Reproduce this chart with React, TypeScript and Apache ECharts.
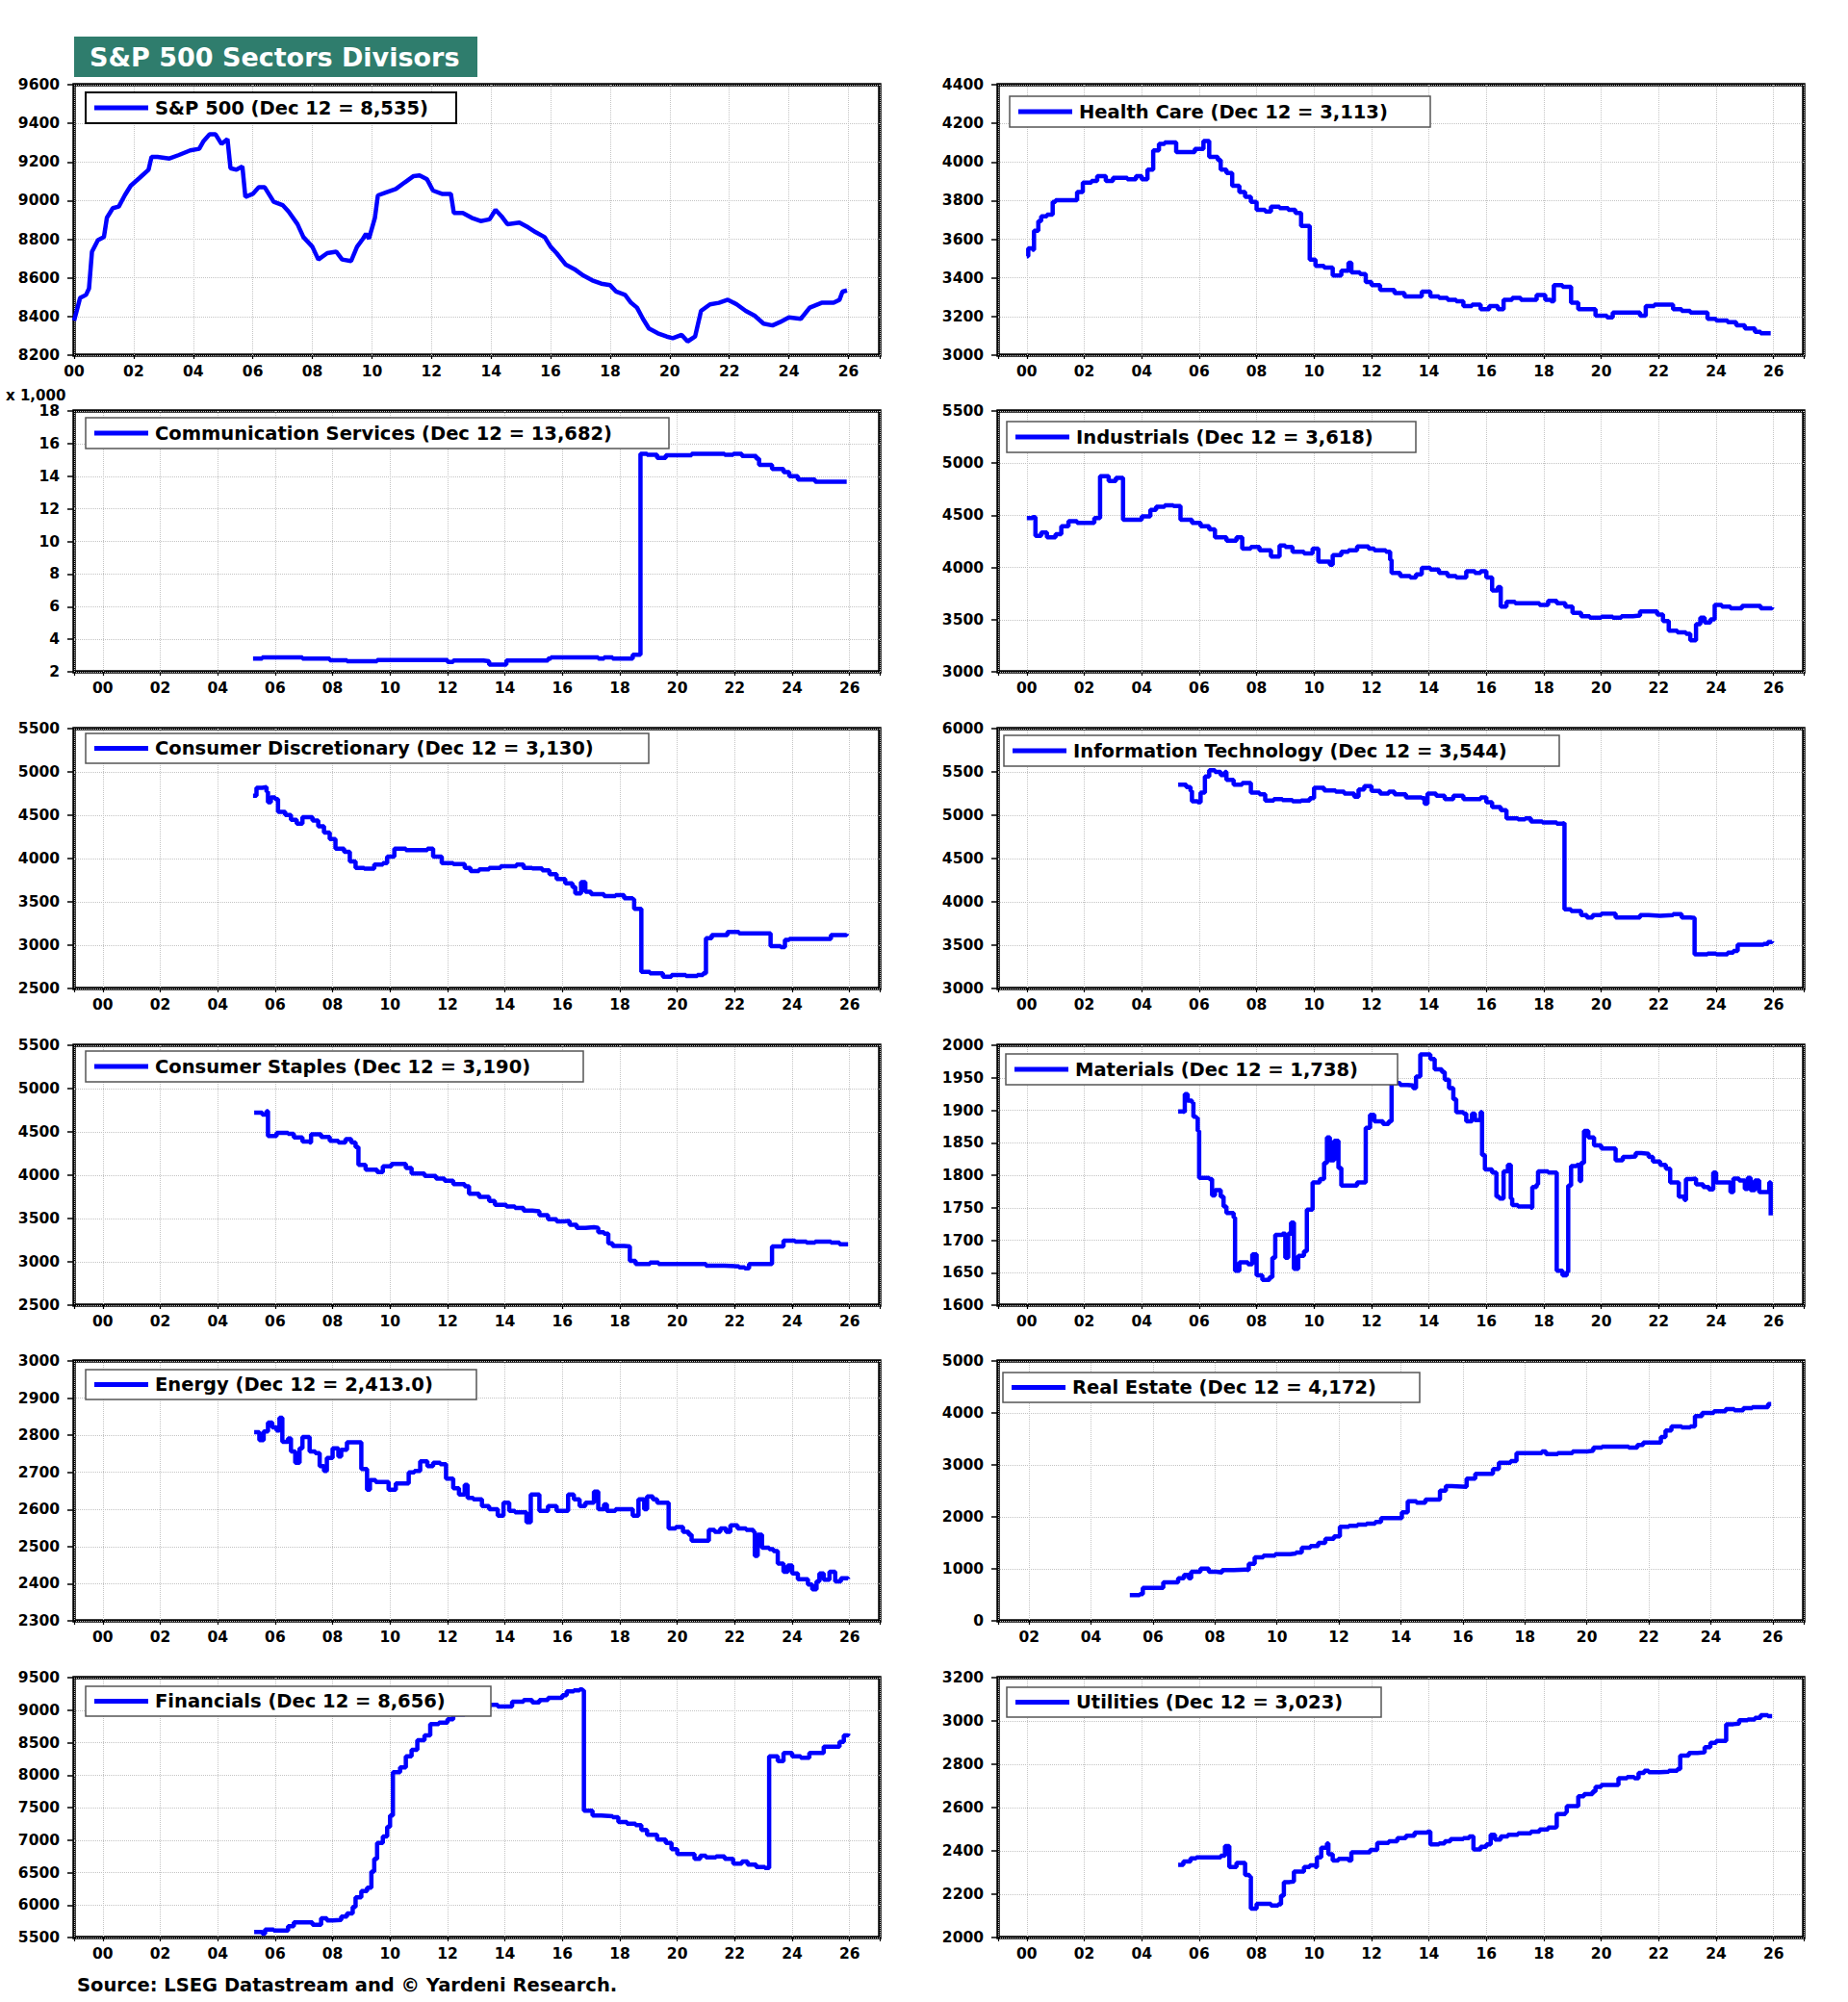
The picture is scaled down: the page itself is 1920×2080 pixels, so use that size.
import React, { useEffect, useRef } from "react";
import * as echarts from "echarts";

const FONT = '"DejaVu Sans", "Liberation Sans", Arial, sans-serif';

// ---------- data: [decimal year, value] ----------
const spx: [number, number][] = [[2000.0,8379],[2000.2,8496],[2000.4,8512],[2000.5,8545],[2000.6,8736],[2000.8,8795],[2001.0,8811],[2001.1,8911],[2001.3,8961],[2001.5,8969],[2001.7,9027],[2001.9,9077],[2002.2,9118],[2002.5,9160],[2002.6,9226],[2002.8,9226],[2003.2,9218],[2003.5,9235],[2003.9,9260],[2004.2,9268],[2004.35,9309],[2004.55,9343],[2004.75,9343],[2004.95,9293],[2005.15,9318],[2005.25,9168],[2005.45,9160],[2005.65,9177],[2005.75,9019],[2006.0,9035],[2006.2,9069],[2006.4,9069],[2006.7,8994],[2007.0,8977],[2007.2,8944],[2007.5,8878],[2007.7,8811],[2008.0,8761],[2008.2,8695],[2008.5,8728],[2008.8,8736],[2009.0,8695],[2009.3,8687],[2009.5,8761],[2009.7,8803],[2009.8,8828],[2009.9,8803],[2010.1,8911],[2010.2,9027],[2010.5,9044],[2010.8,9060],[2011.1,9094],[2011.4,9127],[2011.6,9130],[2011.85,9110],[2012.05,9052],[2012.35,9035],[2012.65,9035],[2012.75,8936],[2013.05,8936],[2013.35,8911],[2013.65,8894],[2013.95,8903],[2014.15,8952],[2014.35,8919],[2014.55,8878],[2014.95,8886],[2015.25,8861],[2015.5,8836],[2015.8,8811],[2016.0,8761],[2016.2,8728],[2016.5,8670],[2016.8,8645],[2017.1,8612],[2017.4,8587],[2017.7,8570],[2018.0,8562],[2018.2,8529],[2018.5,8512],[2018.7,8471],[2018.9,8446],[2019.1,8388],[2019.3,8338],[2019.6,8313],[2019.9,8296],[2020.1,8288],[2020.4,8305],[2020.6,8271],[2020.85,8296],[2021.05,8429],[2021.35,8463],[2021.65,8471],[2021.95,8487],[2022.25,8463],[2022.55,8429],[2022.85,8404],[2023.15,8363],[2023.45,8354],[2023.7,8371],[2024.0,8396],[2024.4,8388],[2024.7,8446],[2025.1,8471],[2025.5,8471],[2025.7,8487],[2025.8,8529],[2025.95,8535]];

const healthCare: [number, number][] = [[2000.0,3512],[2000.05,3553],[2000.2,3545],[2000.25,3644],[2000.4,3694],[2000.5,3719],[2000.7,3727],[2000.9,3794],[2001.0,3802],[2001.65,3802],[2001.75,3844],[2001.95,3893],[2002.25,3902],[2002.45,3927],[2002.75,3902],[2003.0,3918],[2003.5,3910],[2003.8,3927],[2004.0,3910],[2004.2,3960],[2004.4,4060],[2004.6,4093],[2004.8,4101],[2005.2,4051],[2005.65,4051],[2005.85,4068],[2006.15,4109],[2006.35,4026],[2006.65,4010],[2006.75,3960],[2006.95,3943],[2007.15,3877],[2007.4,3844],[2007.6,3819],[2007.8,3794],[2008.0,3752],[2008.3,3744],[2008.5,3769],[2008.8,3761],[2009.1,3752],[2009.35,3736],[2009.55,3669],[2009.75,3669],[2009.85,3495],[2010.05,3462],[2010.35,3453],[2010.65,3412],[2010.95,3437],[2011.2,3478],[2011.3,3429],[2011.6,3420],[2011.8,3379],[2012.0,3362],[2012.3,3337],[2012.6,3337],[2012.8,3321],[2013.15,3304],[2013.45,3304],[2013.75,3329],[2014.05,3304],[2014.35,3296],[2014.65,3287],[2014.95,3279],[2015.2,3254],[2015.5,3262],[2015.8,3238],[2016.1,3254],[2016.4,3238],[2016.6,3287],[2016.9,3296],[2017.2,3287],[2017.55,3287],[2017.75,3312],[2018.05,3287],[2018.25,3279],[2018.35,3362],[2018.65,3354],[2018.85,3354],[2018.95,3271],[2019.2,3238],[2019.5,3238],[2019.8,3204],[2020.2,3196],[2020.4,3221],[2021.35,3204],[2021.55,3254],[2021.85,3262],[2022.15,3262],[2022.5,3238],[2022.8,3229],[2023.1,3221],[2023.7,3188],[2024.0,3179],[2024.4,3171],[2024.7,3154],[2025.0,3138],[2025.35,3121],[2025.55,3113],[2025.9,3113]];

const commServices: [number, number][] = [[2005.23,2.81],[2005.55,2.89],[2006.95,2.81],[2007.9,2.71],[2008.5,2.65],[2009.55,2.73],[2012.0,2.61],[2012.2,2.69],[2013.25,2.65],[2013.45,2.45],[2014.05,2.69],[2014.9,2.69],[2015.5,2.81],[2015.6,2.89],[2017.25,2.81],[2017.45,2.89],[2017.75,2.81],[2018.45,3.05],[2018.72,15.38],[2018.95,15.32],[2019.3,15.12],[2019.6,15.28],[2020.5,15.38],[2021.65,15.32],[2021.95,15.38],[2022.25,15.24],[2022.75,15.08],[2022.85,14.69],[2023.3,14.45],[2023.7,14.25],[2023.9,14.0],[2024.2,13.8],[2024.8,13.66],[2025.9,13.68]];

const industrials: [number, number][] = [[2000.0,4473],[2000.2,4483],[2000.3,4304],[2000.5,4335],[2000.7,4289],[2001.0,4319],[2001.2,4396],[2001.45,4443],[2001.75,4427],[2002.35,4473],[2002.55,4874],[2002.85,4828],[2003.1,4859],[2003.35,4458],[2003.7,4458],[2004.0,4489],[2004.3,4551],[2004.5,4581],[2004.8,4597],[2005.1,4588],[2005.35,4458],[2005.75,4427],[2006.05,4396],[2006.35,4366],[2006.55,4289],[2006.95,4258],[2007.3,4289],[2007.5,4181],[2007.8,4196],[2008.1,4165],[2008.5,4104],[2008.8,4211],[2009.0,4196],[2009.25,4150],[2009.65,4134],[2009.95,4181],[2010.15,4057],[2010.55,4027],[2010.65,4119],[2010.95,4150],[2011.2,4165],[2011.5,4202],[2011.9,4181],[2012.1,4165],[2012.5,4150],[2012.65,4073],[2012.7,3949],[2013.0,3919],[2013.35,3903],[2013.55,3934],[2013.75,3996],[2014.05,3980],[2014.35,3949],[2014.65,3919],[2014.95,3903],[2015.3,3965],[2015.6,3949],[2015.8,3965],[2016.0,3903],[2016.2,3780],[2016.4,3811],[2016.5,3626],[2016.7,3672],[2017.0,3657],[2017.85,3641],[2018.15,3681],[2018.45,3657],[2018.75,3626],[2019.0,3564],[2019.3,3533],[2019.6,3518],[2020.0,3527],[2020.4,3518],[2020.7,3533],[2021.1,3539],[2021.35,3580],[2021.95,3549],[2022.15,3487],[2022.35,3395],[2022.65,3379],[2022.95,3364],[2023.1,3302],[2023.3,3456],[2023.45,3518],[2023.6,3472],[2023.8,3502],[2023.95,3641],[2024.2,3626],[2024.5,3610],[2024.9,3632],[2025.55,3610],[2025.95,3618]];

const consDisc: [number, number][] = [[2005.23,4724],[2005.35,4817],[2005.55,4824],[2005.7,4772],[2005.75,4650],[2005.85,4706],[2006.0,4687],[2006.1,4539],[2006.35,4502],[2006.55,4447],[2006.75,4403],[2006.95,4477],[2007.3,4440],[2007.5,4373],[2007.7,4299],[2007.9,4225],[2008.1,4115],[2008.4,4078],[2008.6,3967],[2008.8,3893],[2009.1,3882],[2009.45,3930],[2009.75,3948],[2009.9,4022],[2010.15,4115],[2010.55,4096],[2011.3,4115],[2011.5,4022],[2011.8,3948],[2012.2,3937],[2012.6,3893],[2012.8,3856],[2013.1,3874],[2013.45,3893],[2013.85,3911],[2014.4,3930],[2014.65,3893],[2014.95,3885],[2015.3,3863],[2015.55,3819],[2015.8,3763],[2016.1,3715],[2016.35,3671],[2016.45,3597],[2016.65,3727],[2016.8,3616],[2017.0,3590],[2017.45,3568],[2017.85,3579],[2018.15,3542],[2018.45,3531],[2018.5,3420],[2018.75,2692],[2019.05,2674],[2019.5,2637],[2019.8,2655],[2020.3,2644],[2020.7,2655],[2020.9,2674],[2021.0,3080],[2021.2,3117],[2021.75,3154],[2022.15,3136],[2023.25,2988],[2023.6,2977],[2023.75,3062],[2023.9,3073],[2025.35,3117],[2025.9,3130]];

const infoTech: [number, number][] = [[2005.27,5353],[2005.55,5324],[2005.7,5280],[2005.75,5161],[2005.95,5150],[2006.05,5261],[2006.2,5446],[2006.35,5520],[2006.55,5501],[2006.75,5464],[2006.9,5501],[2006.95,5409],[2007.2,5353],[2007.5,5372],[2007.8,5261],[2008.1,5243],[2008.3,5169],[2008.6,5187],[2008.9,5176],[2009.25,5161],[2009.55,5169],[2009.85,5198],[2010.0,5316],[2010.35,5287],[2010.75,5272],[2011.05,5250],[2011.4,5213],[2011.55,5298],[2011.75,5335],[2012.0,5280],[2012.3,5250],[2012.6,5272],[2012.8,5243],[2013.2,5206],[2013.75,5198],[2013.85,5132],[2013.95,5250],[2014.25,5224],[2014.55,5187],[2014.85,5224],[2015.2,5187],[2015.8,5206],[2016.0,5150],[2016.2,5095],[2016.5,5058],[2016.7,4965],[2017.1,4954],[2017.35,4965],[2017.55,4929],[2017.95,4917],[2018.45,4903],[2018.65,4910],[2018.72,3913],[2018.95,3894],[2019.3,3846],[2019.5,3820],[2019.7,3846],[2020.0,3865],[2020.5,3820],[2021.35,3846],[2021.65,3839],[2022.05,3846],[2022.5,3857],[2022.8,3820],[2023.1,3813],[2023.25,3395],[2023.7,3403],[2024.0,3395],[2024.4,3414],[2024.6,3432],[2024.75,3506],[2025.65,3514],[2025.8,3536],[2025.95,3544]];

const consStaples: [number, number][] = [[2005.27,4723],[2005.55,4701],[2005.7,4738],[2005.75,4453],[2006.05,4490],[2006.45,4479],[2006.65,4435],[2006.95,4390],[2007.2,4379],[2007.25,4472],[2007.6,4442],[2007.9,4398],[2008.2,4379],[2008.45,4416],[2008.65,4379],[2008.8,4324],[2008.9,4120],[2009.15,4065],[2009.55,4035],[2009.75,4102],[2010.05,4131],[2010.55,4083],[2010.75,4020],[2011.2,3991],[2011.6,3961],[2011.9,3935],[2012.2,3898],[2012.6,3872],[2012.75,3787],[2013.1,3750],[2013.45,3702],[2013.65,3658],[2014.05,3639],[2014.35,3621],[2014.65,3591],[2014.95,3584],[2015.2,3540],[2015.5,3491],[2015.8,3466],[2016.05,3473],[2016.25,3429],[2016.5,3392],[2016.8,3399],[2017.1,3392],[2017.25,3343],[2017.45,3325],[2017.6,3214],[2017.75,3184],[2018.15,3177],[2018.35,3010],[2018.55,2974],[2019.05,2992],[2019.35,2974],[2021.0,2955],[2021.65,2948],[2022.15,2937],[2022.35,2926],[2022.5,2974],[2023.3,3177],[2023.7,3244],[2024.1,3232],[2024.5,3221],[2024.8,3232],[2025.35,3221],[2025.65,3203],[2025.95,3200]];

const materials: [number, number][] = [[2005.27,1898],[2005.45,1897],[2005.5,1925],[2005.6,1915],[2005.75,1912],[2005.8,1890],[2005.9,1888],[2005.95,1868],[2006.0,1796],[2006.35,1794],[2006.45,1769],[2006.55,1777],[2006.75,1767],[2006.85,1752],[2006.95,1742],[2007.2,1735],[2007.25,1653],[2007.4,1666],[2007.7,1663],[2007.85,1678],[2008.0,1646],[2008.2,1639],[2008.45,1643],[2008.55,1673],[2008.65,1708],[2008.9,1710],[2009.0,1673],[2009.1,1710],[2009.2,1727],[2009.3,1656],[2009.45,1676],[2009.65,1683],[2009.75,1747],[2009.95,1789],[2010.2,1794],[2010.35,1819],[2010.45,1858],[2010.55,1823],[2010.7,1853],[2010.85,1811],[2010.95,1784],[2011.5,1789],[2011.8,1873],[2011.95,1893],[2012.1,1883],[2012.4,1879],[2012.6,1883],[2012.7,1942],[2013.0,1939],[2013.25,1938],[2013.45,1934],[2013.55,1952],[2013.7,1986],[2014.05,1979],[2014.2,1963],[2014.45,1959],[2014.55,1947],[2014.7,1934],[2014.85,1917],[2014.95,1897],[2015.2,1895],[2015.3,1883],[2015.5,1895],[2015.6,1885],[2015.8,1897],[2015.85,1831],[2015.95,1809],[2016.2,1804],[2016.35,1767],[2016.45,1764],[2016.6,1806],[2016.75,1816],[2016.85,1764],[2016.9,1754],[2017.1,1752],[2017.55,1750],[2017.6,1782],[2017.75,1786],[2017.8,1806],[2018.15,1804],[2018.45,1653],[2018.65,1646],[2018.8,1651],[2018.85,1784],[2018.95,1814],[2019.15,1816],[2019.25,1791],[2019.3,1819],[2019.4,1868],[2019.55,1858],[2019.75,1846],[2020.0,1841],[2020.5,1823],[2020.75,1828],[2021.0,1829],[2021.2,1834],[2021.4,1833],[2021.65,1828],[2021.8,1821],[2022.05,1816],[2022.25,1810],[2022.4,1789],[2022.7,1767],[2022.9,1762],[2022.95,1794],[2023.15,1795],[2023.3,1786],[2023.55,1782],[2023.75,1778],[2023.9,1804],[2024.0,1789],[2024.5,1774],[2024.6,1795],[2024.8,1792],[2025.0,1779],[2025.1,1796],[2025.2,1777],[2025.35,1792],[2025.5,1774],[2025.85,1789],[2025.9,1738]];

const energy: [number, number][] = [[2005.27,2808],[2005.45,2787],[2005.6,2810],[2005.75,2834],[2005.9,2821],[2006.05,2813],[2006.15,2847],[2006.25,2782],[2006.45,2791],[2006.55,2756],[2006.7,2726],[2006.85,2765],[2006.95,2795],[2007.2,2756],[2007.4,2752],[2007.55,2717],[2007.7,2704],[2007.8,2739],[2008.0,2765],[2008.2,2743],[2008.3,2761],[2008.5,2781],[2009.0,2709],[2009.2,2653],[2009.3,2679],[2009.5,2674],[2009.95,2653],[2010.2,2670],[2010.65,2700],[2010.85,2704],[2011.05,2730],[2011.3,2717],[2011.5,2726],[2011.75,2722],[2011.95,2683],[2012.2,2657],[2012.4,2640],[2012.6,2666],[2012.7,2631],[2012.9,2627],[2013.2,2609],[2013.45,2601],[2013.75,2583],[2013.95,2618],[2014.15,2596],[2014.35,2592],[2014.75,2566],[2014.9,2640],[2015.2,2596],[2015.5,2609],[2015.8,2596],[2016.2,2640],[2016.4,2627],[2016.6,2609],[2016.8,2618],[2017.1,2648],[2017.25,2601],[2017.45,2614],[2017.55,2596],[2017.85,2601],[2018.45,2583],[2018.65,2627],[2018.85,2601],[2018.95,2635],[2019.15,2627],[2019.3,2618],[2019.7,2549],[2019.95,2553],[2020.2,2540],[2020.4,2532],[2020.5,2516],[2021.1,2545],[2021.3,2540],[2021.5,2549],[2021.7,2540],[2021.85,2557],[2022.1,2549],[2022.4,2545],[2022.65,2540],[2022.7,2475],[2022.8,2532],[2022.95,2497],[2023.2,2493],[2023.35,2488],[2023.5,2454],[2023.7,2432],[2023.85,2449],[2024.0,2428],[2024.2,2412],[2024.55,2398],[2024.7,2385],[2024.85,2406],[2024.95,2428],[2025.1,2411],[2025.3,2432],[2025.5,2406],[2025.7,2415],[2025.95,2413]];

const realEstate: [number, number][] = [[2005.25,494],[2005.57,512],[2005.67,636],[2006.33,741],[2006.81,821],[2007.0,883],[2007.15,821],[2007.23,944],[2007.53,1006],[2007.8,944],[2008.04,932],[2008.23,975],[2008.61,988],[2008.99,975],[2009.09,1099],[2009.28,1222],[2009.56,1253],[2009.94,1284],[2010.42,1296],[2010.61,1315],[2010.8,1407],[2011.08,1438],[2011.33,1500],[2011.56,1580],[2011.84,1623],[2012.03,1809],[2012.32,1827],[2012.6,1852],[2012.89,1870],[2013.17,1901],[2013.36,1975],[2014.03,2086],[2014.22,2302],[2014.5,2272],[2014.79,2333],[2015.26,2506],[2015.45,2593],[2015.64,2580],[2016.12,2735],[2016.4,2827],[2016.97,2920],[2017.16,3043],[2017.54,3074],[2017.73,3228],[2018.55,3259],[2018.68,3210],[2019.06,3228],[2019.54,3259],[2020.02,3272],[2020.21,3333],[2020.49,3352],[2021.35,3333],[2021.63,3383],[2021.82,3432],[2022.39,3537],[2022.54,3660],[2022.73,3741],[2023.06,3722],[2023.34,3741],[2023.49,3938],[2023.72,4000],[2024.1,4031],[2024.48,4074],[2024.76,4049],[2025.05,4093],[2025.34,4111],[2025.85,4172],[2025.95,4172]];

const financials: [number, number][] = [[2005.27,5584],[2005.55,5559],[2005.65,5624],[2005.95,5609],[2006.45,5673],[2006.65,5732],[2007.3,5698],[2007.6,5796],[2007.8,5762],[2008.0,5772],[2008.3,5821],[2008.5,5870],[2008.7,5969],[2008.8,6118],[2009.0,6216],[2009.2,6266],[2009.35,6513],[2009.45,6710],[2009.55,6957],[2009.75,7056],[2009.9,7204],[2010.0,7377],[2010.1,8043],[2010.35,8117],[2010.55,8290],[2010.75,8389],[2010.95,8537],[2011.2,8611],[2011.4,8784],[2011.7,8809],[2012.0,8858],[2012.2,8932],[2012.6,8982],[2013.0,9031],[2013.45,9080],[2013.75,9056],[2014.25,9130],[2014.65,9154],[2014.95,9120],[2015.2,9154],[2015.5,9189],[2016.0,9228],[2016.15,9288],[2016.4,9302],[2016.6,9317],[2016.7,9302],[2016.75,7451],[2017.05,7377],[2017.35,7367],[2017.75,7352],[2017.95,7278],[2018.25,7253],[2018.55,7229],[2018.75,7154],[2018.95,7080],[2019.3,7006],[2019.6,6957],[2019.8,6858],[2020.0,6784],[2020.6,6710],[2020.8,6759],[2021.0,6735],[2021.35,6750],[2021.65,6710],[2021.95,6636],[2022.25,6670],[2022.45,6621],[2022.75,6587],[2023.05,6572],[2023.2,8290],[2023.5,8216],[2023.7,8340],[2024.0,8290],[2024.3,8266],[2024.6,8340],[2025.1,8438],[2025.65,8512],[2025.8,8611],[2025.95,8640]];

const utilities: [number, number][] = [[2005.27,2336],[2005.45,2351],[2005.7,2366],[2005.9,2370],[2006.75,2378],[2006.9,2422],[2007.05,2326],[2007.3,2345],[2007.6,2289],[2007.75,2281],[2007.8,2133],[2008.0,2156],[2008.5,2148],[2008.75,2153],[2008.85,2193],[2008.95,2256],[2009.15,2259],[2009.3,2304],[2009.65,2326],[2009.85,2333],[2010.05,2326],[2010.1,2370],[2010.25,2415],[2010.45,2434],[2010.5,2385],[2010.65,2356],[2010.85,2363],[2011.2,2356],[2011.3,2393],[2011.95,2404],[2012.2,2437],[2012.6,2444],[2012.9,2459],[2013.2,2470],[2013.5,2484],[2013.95,2489],[2014.05,2430],[2014.35,2434],[2014.55,2444],[2014.75,2455],[2015.2,2459],[2015.4,2467],[2015.55,2407],[2015.8,2419],[2016.0,2430],[2016.15,2474],[2016.3,2452],[2016.5,2467],[2016.75,2474],[2017.1,2481],[2017.55,2489],[2017.85,2499],[2018.15,2508],[2018.4,2511],[2018.45,2570],[2018.75,2578],[2018.8,2607],[2019.2,2652],[2019.4,2662],[2019.7,2674],[2019.8,2696],[2020.0,2704],[2020.6,2736],[2020.9,2741],[2021.15,2736],[2021.3,2760],[2021.5,2770],[2021.65,2763],[2022.05,2766],[2022.35,2770],[2022.65,2778],[2022.75,2840],[2023.05,2852],[2023.35,2855],[2023.6,2879],[2023.8,2899],[2024.0,2908],[2024.35,2985],[2024.6,2988],[2024.8,3003],[2025.1,3007],[2025.35,3015],[2025.55,3027],[2025.8,3022],[2025.95,3023]];

// ---------- text ----------
const TITLE = "S&P 500 Sectors Divisors";
const SOURCE = "Source: LSEG Datastream and \u00A9 Yardeni Research.";
const UNIT_NOTE = "x 1,000";

// ---------- panel configuration ----------
type Panel = {
  name: string;
  data: [number, number][];
  col: number;
  row: number;
  xMin: number;
  xMax: number;
  yMin: number;
  yMax: number;
  yInterval: number;
  step: boolean;
  box: [number, number, number, number];
};

const panels: Panel[] = [
  { name: "S&P 500 (Dec 12 = 8,535)", data: spx, col: 0, row: 0, xMin: 2000, xMax: 2027.05, yMin: 8200, yMax: 9600, yInterval: 200, step: false, box: [89, 96, 385, 32] },
  { name: "Health Care (Dec 12 = 3,113)", data: healthCare, col: 1, row: 0, xMin: 1999, xMax: 2027.05, yMin: 3000, yMax: 4400, yInterval: 200, step: true, box: [1049, 100, 437, 32] },
  { name: "Communication Services (Dec 12 = 13,682)", data: commServices, col: 0, row: 1, xMin: 1999, xMax: 2027.05, yMin: 2, yMax: 18, yInterval: 2, step: true, box: [89, 434, 606, 32] },
  { name: "Industrials (Dec 12 = 3,618)", data: industrials, col: 1, row: 1, xMin: 1999, xMax: 2027.05, yMin: 3000, yMax: 5500, yInterval: 500, step: true, box: [1046, 438, 425, 32] },
  { name: "Consumer Discretionary (Dec 12 = 3,130)", data: consDisc, col: 0, row: 2, xMin: 1999, xMax: 2027.05, yMin: 2500, yMax: 5500, yInterval: 500, step: true, box: [89, 762, 585, 31] },
  { name: "Information Technology (Dec 12 = 3,544)", data: infoTech, col: 1, row: 2, xMin: 1999, xMax: 2027.05, yMin: 3000, yMax: 6000, yInterval: 500, step: true, box: [1043, 764, 577, 32] },
  { name: "Consumer Staples (Dec 12 = 3,190)", data: consStaples, col: 0, row: 3, xMin: 1999, xMax: 2027.05, yMin: 2500, yMax: 5500, yInterval: 500, step: true, box: [89, 1092, 517, 32] },
  { name: "Materials (Dec 12 = 1,738)", data: materials, col: 1, row: 3, xMin: 1999, xMax: 2027.05, yMin: 1600, yMax: 2000, yInterval: 50, step: true, box: [1045, 1095, 407, 32] },
  { name: "Energy (Dec 12 = 2,413.0)", data: energy, col: 0, row: 4, xMin: 1999, xMax: 2027.05, yMin: 2300, yMax: 3000, yInterval: 100, step: true, box: [89, 1423, 406, 31] },
  { name: "Real Estate (Dec 12 = 4,172)", data: realEstate, col: 1, row: 4, xMin: 2001, xMax: 2027, yMin: 0, yMax: 5000, yInterval: 1000, step: true, box: [1042, 1426, 433, 31] },
  { name: "Financials (Dec 12 = 8,656)", data: financials, col: 0, row: 5, xMin: 1999, xMax: 2027.05, yMin: 5500, yMax: 9500, yInterval: 500, step: true, box: [89, 1752, 421, 31] },
  { name: "Utilities (Dec 12 = 3,023)", data: utilities, col: 1, row: 5, xMin: 1999, xMax: 2027.05, yMin: 2000, yMax: 3200, yInterval: 200, step: true, box: [1046, 1753, 389, 31] },
];

const COL_LEFT = [77, 1037];
const GRID_W = 837;
const ROW_TOP = [88, 427, 757, 1086, 1414, 1743];
const ROW_H = [281, 271, 270, 270, 270, 270];

const LINE_BLUE = "#0000ff";
const GRID_COLOR = "#c4c4c4";

function yearLabel(v: number): string {
  const r = Math.round(v);
  if (Math.abs(v - r) > 1e-6 || r % 2 !== 0) return "";
  return String(r % 100).padStart(2, "0");
}

function plainNumber(v: number): string {
  return String(Math.round(v * 1000) / 1000);
}

function buildOption() {
  const axisFont = { fontFamily: FONT, fontSize: 15.5, fontWeight: "bold" as const, color: "#000" };
  return {
    animation: false,
    backgroundColor: "#ffffff",
    grid: panels.map((p) => ({
      left: COL_LEFT[p.col],
      top: ROW_TOP[p.row],
      width: GRID_W,
      height: ROW_H[p.row],
      show: true,
      backgroundColor: "#ffffff",
      borderColor: "#000000",
      borderWidth: 3.5,
      containLabel: false,
    })),
    xAxis: panels.map((p, i) => ({
      type: "value",
      gridIndex: i,
      min: p.xMin,
      max: p.xMax,
      splitNumber: 14,
      minInterval: 2,
      maxInterval: 2,
      axisLine: { show: false },
      axisTick: { show: true, length: 4, lineStyle: { color: "#000", width: 1.2 } },
      axisLabel: { ...axisFont, margin: 9, formatter: yearLabel, showMinLabel: true, showMaxLabel: true },
      splitLine: { show: true, lineStyle: { color: GRID_COLOR, type: "dotted", width: 1 } },
    })),
    yAxis: panels.map((p, i) => ({
      type: "value",
      gridIndex: i,
      min: p.yMin,
      max: p.yMax,
      interval: p.yInterval,
      axisLine: { show: false },
      axisTick: { show: true, length: 7, lineStyle: { color: "#000", width: 1.5 } },
      axisLabel: { ...axisFont, margin: 15, formatter: plainNumber },
      splitLine: { show: true, lineStyle: { color: GRID_COLOR, type: "dotted", width: 1 } },
    })),
    series: panels.map((p, i) => ({
      type: "line",
      name: p.name,
      xAxisIndex: i,
      yAxisIndex: i,
      data: p.data,
      showSymbol: false,
      symbol: "none",
      step: p.step ? "end" : false,
      lineStyle: { color: LINE_BLUE, width: 4.5 },
      itemStyle: { color: LINE_BLUE },
      z: 3,
    })),
    legend: panels.map((p) => ({
      data: [p.name],
      left: p.box[0] + 9,
      top: p.box[1] + p.box[3] / 2 - 10,
      orient: "horizontal",
      icon: "rect",
      itemWidth: 56,
      itemHeight: 5,
      itemGap: 0,
      padding: 0,
      selectedMode: false,
      z: 20,
      textStyle: { fontFamily: FONT, fontSize: 19.5, fontWeight: "bold", color: "#000", lineHeight: 20, padding: [0, 0, 0, 2] },
    })),
    graphic: [
      { type: "rect", z: 30, shape: { x: 77, y: 38, width: 419, height: 42 }, style: { fill: "#2f7d6d" } },
      { type: "text", z: 31, x: 93, y: 59, style: { text: TITLE, fill: "#ffffff", fontFamily: FONT, fontSize: 27, fontWeight: "bold", textVerticalAlign: "middle", verticalAlign: "middle", textAlign: "left", align: "left" } },
      { type: "text", z: 31, x: 6, y: 411, style: { text: UNIT_NOTE, fill: "#000", fontFamily: FONT, fontSize: 15, fontWeight: "bold", textVerticalAlign: "middle", verticalAlign: "middle" } },
      { type: "text", z: 31, x: 80, y: 2062, style: { text: SOURCE, fill: "#000", fontFamily: FONT, fontSize: 19.5, fontWeight: "bold", textVerticalAlign: "middle", verticalAlign: "middle" } },
      ...panels.map((p) => ({
        type: "rect",
        z: 10,
        shape: { x: p.box[0], y: p.box[1], width: p.box[2], height: p.box[3] },
        style: { fill: "#ffffff", stroke: p.row === 0 && p.col === 0 ? "#000" : "#555", lineWidth: p.row === 0 && p.col === 0 ? 2 : 1.5 },
      })),
    ],
  };
}

export default function App() {
  const ref = useRef<HTMLDivElement>(null);
  useEffect(() => {
    if (!ref.current) return;
    const chart = echarts.init(ref.current, undefined, { renderer: "svg", width: 1920, height: 2080 });
    chart.setOption(buildOption() as any);
    return () => chart.dispose();
  }, []);
  return (
    <div
      ref={ref}
      style={{ position: "absolute", left: 0, top: 0, width: 1920, height: 2080, background: "#fff" }}
    />
  );
}
